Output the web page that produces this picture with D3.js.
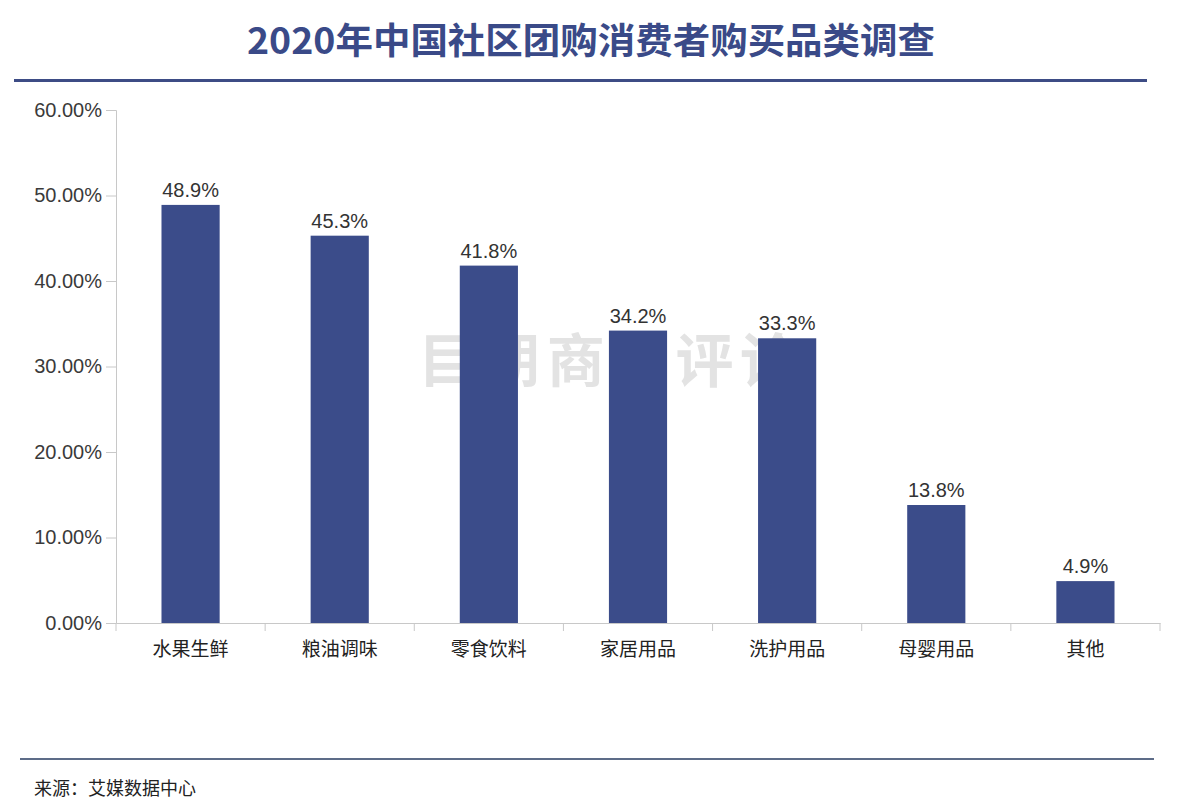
<!DOCTYPE html>
<html>
<head>
<meta charset="utf-8">
<script src="https://cdn.jsdelivr.net/npm/d3@7"></script>
<style>
html,body{margin:0;padding:0;background:#fff;}
svg{display:block;}
text{font-family:"Noto Sans CJK SC","Noto Sans",sans-serif;}
</style>
</head>
<body>
<svg id="chart" width="1194" height="810"></svg>
<script>
const categories = ["水果生鲜","粮油调味","零食饮料","家居用品","洗护用品","母婴用品","其他"];
const values = [48.9, 45.3, 41.8, 34.2, 33.3, 13.8, 4.9];
const yTicks = [0,10,20,30,40,50,60];
const titleText = "2020年中国社区团购消费者购买品类调查";
const sourceText = "来源：艾媒数据中心";
const watermarkText = "目朋商业评论";

const svg = d3.select("#chart");
const margin = {left:116, right:1160, top:110, bottom:623};
const numFont = "'Liberation Sans','DejaVu Sans',sans-serif";

const x = d3.scaleBand().domain(categories).range([margin.left, margin.right]).paddingInner(0).paddingOuter(0);
const y = d3.scaleLinear().domain([0,60]).range([margin.bottom, margin.top]);

// title
svg.append("text").attr("x",247).attr("y",54)
  .attr("font-size",36).attr("font-weight","bold").attr("fill","#3a4a88")
  .attr("textLength",688).attr("lengthAdjust","spacingAndGlyphs").text(titleText);
svg.append("line").attr("x1",14).attr("x2",1147).attr("y1",80.5).attr("y2",80.5)
  .attr("stroke","#3d4c85").attr("stroke-width",3);

// watermark (drawn behind the bars)
svg.append("text").attr("x",418).attr("y",382)
  .attr("font-size",58).attr("font-weight","bold").attr("fill","#e3e3e3")
  .attr("textLength",380).attr("lengthAdjust","spacing").text(watermarkText);

// y axis
const yAxis = svg.append("g").attr("transform",`translate(${margin.left},0)`)
  .call(d3.axisLeft(y).tickValues(yTicks).tickSize(10).tickPadding(4).tickFormat(d => d.toFixed(2)+"%"));
yAxis.select(".domain").attr("stroke","#c8c8c8");
yAxis.selectAll(".tick line").attr("stroke","#c8c8c8");
yAxis.selectAll(".tick text").attr("font-size",20).attr("fill","#3a3a3a")
  .style("font-family",numFont);

// x axis
const xAxis = svg.append("g").attr("transform",`translate(0,${margin.bottom})`)
  .call(d3.axisBottom(x).tickSize(0).tickPadding(21));
xAxis.select(".domain").attr("stroke","#c8c8c8");
xAxis.selectAll(".tick text").attr("font-size",19).attr("fill","#222").attr("dy","0.62em");
// band boundary ticks
const bounds = categories.map(c => x(c)).concat([x(categories[categories.length-1]) + x.bandwidth()]);
svg.append("g").selectAll("line").data(bounds).join("line")
  .attr("x1",d=>d).attr("x2",d=>d).attr("y1",margin.bottom).attr("y2",margin.bottom+8)
  .attr("stroke","#c8c8c8");

// bars
const bw = x.bandwidth()*0.39;
svg.append("g").selectAll("rect").data(values).join("rect")
  .attr("x",(d,i)=>x(categories[i]) + x.bandwidth()/2 - bw/2)
  .attr("y",d=>y(d)).attr("width",bw).attr("height",d=>y(0)-y(d))
  .attr("fill","#3b4c8a");

// value labels
svg.append("g").selectAll("text").data(values).join("text")
  .attr("x",(d,i)=>x(categories[i]) + x.bandwidth()/2)
  .attr("y",d=>y(d)-8).attr("text-anchor","middle")
  .attr("font-size",20).attr("fill","#333")
  .style("font-family",numFont)
  .text(d=>d.toFixed(1)+"%");

// footer
svg.append("line").attr("x1",20).attr("x2",1154).attr("y1",759).attr("y2",759)
  .attr("stroke","#5d6c88").attr("stroke-width",2);
svg.append("text").attr("x",34).attr("y",795).attr("font-size",18).attr("fill","#222")
  .text(sourceText);
</script>
</body>
</html>
